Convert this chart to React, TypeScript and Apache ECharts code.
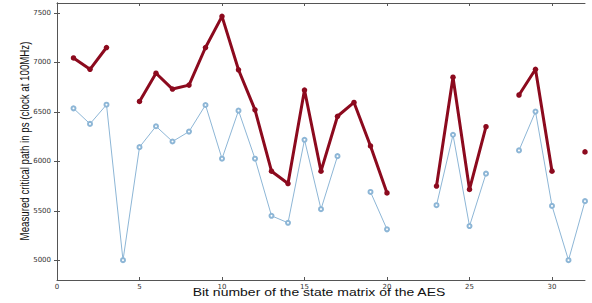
import React, { useEffect, useRef } from "react";
import * as echarts from "echarts";

const bitNumbers: number[] = Array.from({ length: 32 }, (_, i) => i + 1);

// Dark red series (thick line, filled markers)
const redSeries: (number | null)[] = [
  7045, 6930, 7150, null, 6605, 6890, 6730, 6770, 7150, 7465,
  6925, 6520, 5900, 5775, 6720, 5900, 6455, 6595, 6155, 5680,
  null, null, 5750, 6850, 5715, 6350, null, 6670, 6930, 5900,
  null, 6095,
];

// Light blue series (thin line, hollow markers)
const blueSeries: (number | null)[] = [
  6535, 6378, 6572, 5000, 6143, 6354, 6200, 6300, 6569, 6026,
  6512, 6026, 5449, 5378, 6217, 5516, 6052, null, 5690, 5312,
  null, null, 5556, 6268, 5345, 5875, null, 6110, 6502, 5549,
  5000, 5597,
];

const xTicks: number[] = [0, 5, 10, 15, 20, 25, 30];
const yTicks: number[] = [5000, 5500, 6000, 6500, 7000, 7500];

const xTitle = "Bit number of the state matrix of the AES";
const yTitle = "Measured critical path in ps (clock at 100MHz)";

const AXIS_COLOR = "#555";
const RED = "#8c0a1e";
const BLUE = "#8db6d6";

export default function App() {
  const ref = useRef<HTMLDivElement>(null);

  useEffect(() => {
    if (!ref.current) return;
    const chart = echarts.init(ref.current, undefined, { renderer: "svg" });

    const axisLine = { show: true, lineStyle: { color: AXIS_COLOR, width: 1 } };
    const tickStyle = { lineStyle: { color: AXIS_COLOR, width: 1 } };
    const plain = (v: number) => String(v);

    chart.setOption({
      animation: false,
      backgroundColor: "#fff",
      grid: { left: 57, right: 7, top: 3, bottom: 23, containLabel: false },
      xAxis: [
        {
          type: "value",
          min: 0,
          max: 32,
          position: "bottom",
          axisLine,
          splitLine: { show: false },
          axisTick: { show: true, inside: true, length: 3, customValues: xTicks, ...tickStyle },
          axisLabel: {
            customValues: xTicks,
            formatter: plain,
            fontFamily: "DejaVu Sans",
            fontSize: 7,
            color: "#333",
            margin: 3,
          },
        },
        {
          type: "value",
          min: 0,
          max: 32,
          position: "top",
          axisLine,
          splitLine: { show: false },
          axisTick: { show: true, inside: true, length: 3, customValues: xTicks, ...tickStyle },
          axisLabel: { show: false },
        },
      ],
      yAxis: [
        {
          type: "value",
          min: 4800,
          max: 7600,
          position: "left",
          axisLine,
          splitLine: { show: false },
          axisTick: { show: true, inside: true, length: 3, customValues: yTicks, ...tickStyle },
          axisLabel: {
            customValues: yTicks,
            formatter: plain,
            fontFamily: "DejaVu Sans",
            fontSize: 7,
            color: "#333",
            margin: 6,
          },
        },
        {
          type: "value",
          min: 4800,
          max: 7600,
          position: "right",
          axisLine,
          splitLine: { show: false },
          axisTick: { show: true, inside: true, length: 3, customValues: yTicks, ...tickStyle },
          axisLabel: { show: false },
        },
      ],
      series: [
        {
          type: "line",
          name: "blue",
          data: bitNumbers.map((b, i) => [b, blueSeries[i]]),
          connectNulls: false,
          symbol: "emptyCircle",
          symbolSize: 4,
          showAllSymbol: true,
          lineStyle: { color: BLUE, width: 1 },
          itemStyle: { color: BLUE, borderColor: BLUE, borderWidth: 1 },
          z: 2,
        },
        {
          type: "line",
          name: "red",
          data: bitNumbers.map((b, i) => [b, redSeries[i]]),
          connectNulls: false,
          symbol: "circle",
          symbolSize: 5.5,
          showAllSymbol: true,
          lineStyle: { color: RED, width: 3 },
          itemStyle: { color: RED },
          z: 3,
        },
      ],
      graphic: [
        {
          type: "text",
          x: 319,
          y: 292.5,
          scaleX: 1.4,
          scaleY: 1,
          style: {
            text: xTitle,
            fontFamily: "Liberation Sans",
            fontSize: 10,
            fill: "#111",
            align: "center",
            verticalAlign: "middle",
          },
        },
        {
          type: "text",
          x: 24,
          y: 141,
          rotation: Math.PI / 2,
          scaleX: 1,
          scaleY: 1.4,
          style: {
            text: yTitle,
            fontFamily: "Liberation Sans",
            fontSize: 9.7,
            fill: "#111",
            align: "center",
            verticalAlign: "middle",
          },
        },
      ],
    });

    return () => chart.dispose();
  }, []);

  return (
    <div
      ref={ref}
      style={{ position: "absolute", left: 0, top: 0, width: 592, height: 303 }}
    />
  );
}
